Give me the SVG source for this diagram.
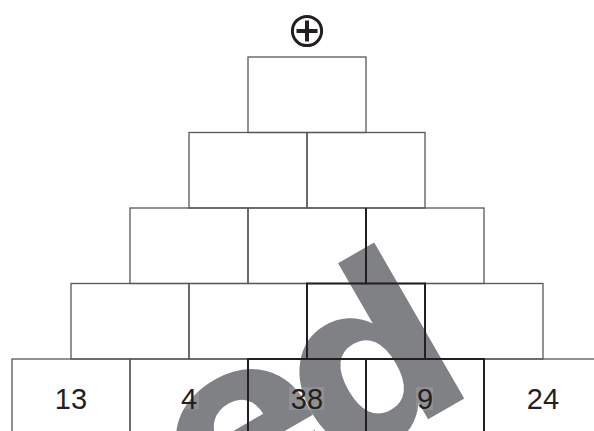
<svg xmlns="http://www.w3.org/2000/svg" width="594" height="431" viewBox="0 0 594 431">
<style>
.box{fill:none;stroke:#58585a;stroke-width:1.3}
.hl{fill:none;stroke:#231f20;stroke-width:2}
.num{font-family:"Liberation Sans",Arial,sans-serif;font-size:29px;fill:#231f20;text-anchor:middle}
.wm{font-family:"DejaVu Sans",sans-serif;font-weight:bold;font-size:237px;fill:#808185}
.tb{fill:#ffffff;fill-opacity:0.12}
</style>
<rect width="594" height="431" fill="#ffffff"/>
<g id="watermark">
<text class="wm" transform="translate(464,398.3) rotate(-30)" x="20" y="0" text-anchor="end"><tspan dy="-8">e</tspan><tspan dx="-22" dy="8">d</tspan></text>
</g>
<g id="operator">
<circle cx="307" cy="31" r="14.6" fill="none" stroke="#231f20" stroke-width="3"/>
<path d="M296.5 31H317.5M307 20.5V41.5" stroke="#231f20" stroke-width="4" fill="none"/>
</g>
<g id="r1c1"><rect class="box" x="248" y="57" width="118" height="75.5"/></g>
<g id="r2c1"><rect class="box" x="189" y="132.5" width="118" height="75.5"/></g>
<g id="r2c2"><rect class="box" x="307" y="132.5" width="118" height="75.5"/></g>
<g id="r3c1"><rect class="box" x="130" y="208" width="118" height="75.5"/></g>
<g id="r3c2"><rect class="box" x="248" y="208" width="118" height="75.5"/></g>
<g id="r3c3"><rect class="box" x="366" y="208" width="118" height="75.5"/></g>
<g id="r4c1"><rect class="box" x="71" y="283.5" width="118" height="75.5"/></g>
<g id="r4c2"><rect class="box" x="189" y="283.5" width="118" height="75.5"/></g>
<g id="r4c4"><rect class="box" x="425" y="283.5" width="118" height="75.5"/></g>
<g id="r5c1"><rect class="box" x="12" y="359" width="118" height="75.5"/><text class="num" x="71" y="409">13</text></g>
<g id="r5c2"><rect class="box" x="130" y="359" width="118" height="75.5"/><rect class="tb" x="179" y="388" width="20" height="21"/><text class="num" x="189" y="409">4</text></g>
<g id="r5c5"><rect class="box" x="484" y="359" width="118" height="75.5"/><text class="num" x="543" y="409">24</text></g>
<g id="r4c3"><rect class="hl" x="307" y="283.5" width="118" height="75.5"/></g>
<g id="r5c3"><rect class="hl" x="248" y="359" width="118" height="75.5"/><rect class="tb" x="289" y="387" width="35" height="23"/><text class="num" x="307" y="409">38</text></g>
<g id="r5c4"><rect class="hl" x="366" y="359" width="118" height="75.5"/><rect class="tb" x="416" y="387" width="17" height="23"/><text class="num" x="425" y="409">9</text></g>
<g id="connectors">
<line class="hl" x1="366" y1="208" x2="366" y2="283.5"/>
</g>
</svg>
